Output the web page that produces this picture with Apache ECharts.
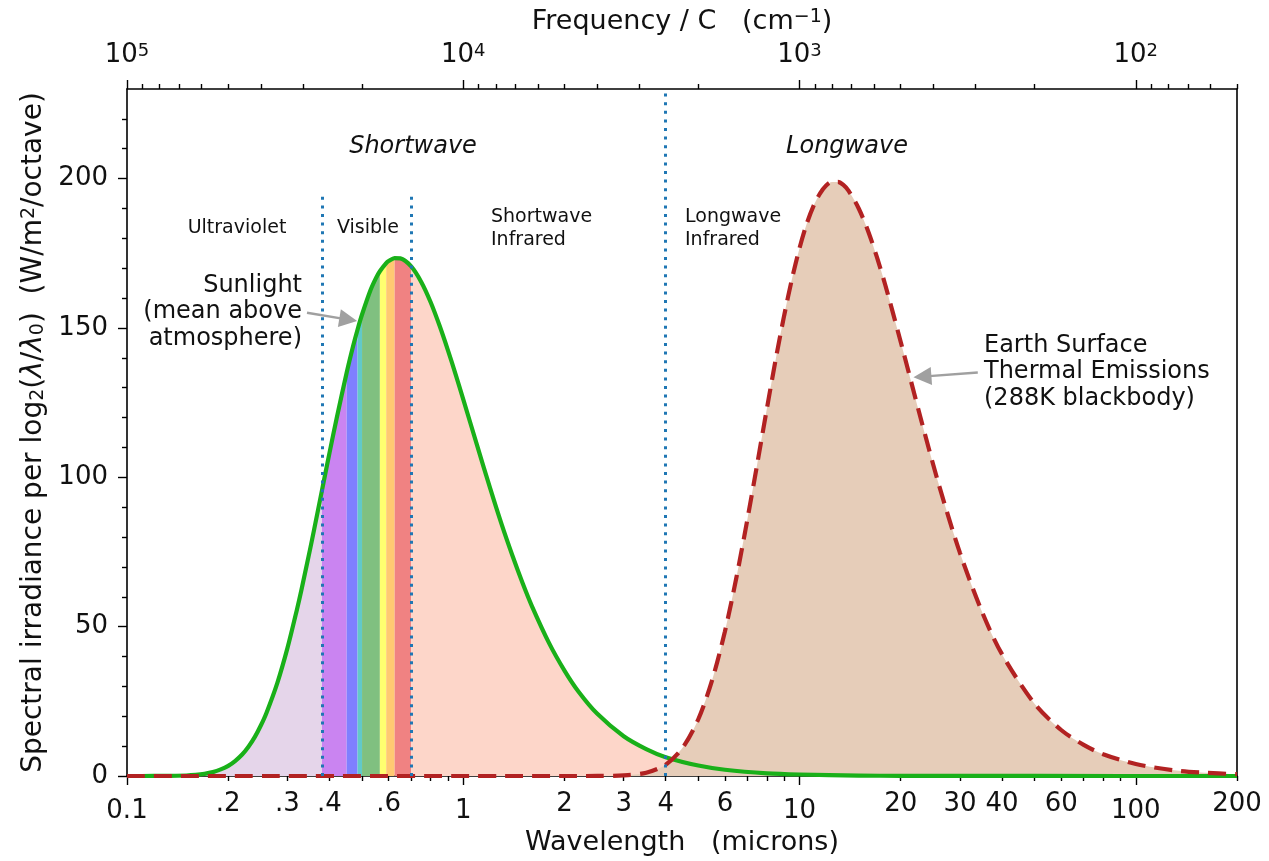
<!DOCTYPE html>
<html>
<head>
<meta charset="utf-8">
<title>Sunlight and Earth thermal emission spectra</title>
<script src="https://cdn.jsdelivr.net/npm/echarts@6/dist/echarts.min.js"></script>
<style>
html, body { margin: 0; padding: 0; background: #fff; }
#chart { width: 1269px; height: 861px; }
</style>
</head>
<body>
<div id="chart"></div>
<script>
// ============================================================================
// Data
// ============================================================================

// Sunlight, mean above atmosphere (W/m2 per octave)
const sunWavelengths = [0.1, 0.12, 0.13, 0.15, 0.16, 0.17, 0.18, 0.19, 0.2, 0.21, 0.22, 0.23, 0.24, 0.25, 0.26, 0.28, 0.3, 0.32, 0.33, 0.35, 0.36, 0.38, 0.4, 0.42, 0.45, 0.47, 0.485, 0.5, 0.53, 0.55, 0.565, 0.59, 0.6, 0.625, 0.65, 0.7, 0.75, 0.8, 0.85, 0.9, 0.95, 1.0, 1.1, 1.2, 1.3, 1.4, 1.5, 1.6, 1.8, 2.0, 2.2, 2.5, 3.0, 3.5, 4, 5, 6, 8, 10, 15, 20, 50, 200]
const sunIrradiance = [0, 0.01, 0.02, 0.17, 0.37, 0.73, 1.3, 2.2, 3.4, 5.1, 7.2, 9.9, 13.1, 16.9, 21.2, 31.2, 42.8, 55.6, 62.2, 75.7, 82.4, 95.6, 108.1, 119.6, 135.0, 143.8, 149.5, 154.5, 162.7, 166.7, 169.0, 171.7, 172.4, 173.4, 173.3, 170.6, 165.4, 158.6, 150.8, 142.6, 134.3, 126.1, 110.6, 96.6, 84.3, 73.8, 64.7, 56.9, 44.5, 35.3, 28.3, 20.9, 13.3, 9.0, 6.3, 3.5, 2.1, 0.9, 0.5, 0.15, 0.06, 0.01, 0]

// Earth surface thermal emissions, 288K blackbody (W/m2 per octave)
const earthWavelengths = [0.1, 2, 2.5, 3, 3.5, 4, 4.5, 5, 5.5, 6, 6.5, 7, 7.5, 8, 8.5, 9, 9.5, 10, 10.5, 11, 11.5, 12, 12.5, 13, 13.5, 14, 15, 16, 17, 18, 20, 23, 26, 30, 35, 40, 50, 60, 70, 80, 100, 130, 160, 200]
const earthIrradiance = [0, 0, 0.01, 0.19, 1.1, 3.8, 9.6, 19.0, 32.2, 48.4, 66.8, 86.0, 105.0, 123.1, 139.6, 154.1, 166.5, 176.7, 184.8, 190.8, 195.0, 197.7, 198.9, 198.9, 197.9, 195.9, 190.0, 182.4, 173.6, 164.3, 145.3, 119.2, 97.3, 74.7, 54.6, 40.8, 24.2, 15.4, 10.4, 7.3, 4.0, 1.9, 1.1, 0.6]

// Colour bands under the sunlight curve (edges in microns)
const bandEdges = [0.1, 0.38, 0.45, 0.485, 0.5, 0.565, 0.59, 0.625, 0.7, 200]
const bandColors = ['#e5d5ea', '#ca84f1', '#7f7fff', '#62c9c9', '#80c080', '#ffff70', '#ffc972', '#f08282', '#fdd6c9']

// Region dividers (microns) and the height they reach
const dividerWavelengths = [0.38, 0.7, 4]
const dividerTops = [195, 195, 230]

// Axis ticks
const wlMajorTicks = [0.1, 1, 10, 100]
const wlMajorLabels = ['0.1', '1', '10', '100']
const wlMinorTicks = [0.2, 0.3, 0.4, 0.5, 0.6, 0.7, 0.8, 0.9, 2, 3, 4, 5, 6, 7, 8, 9, 20, 30, 40, 50, 60, 70, 80, 90, 200]
const wlMinorLabelTicks = [0.2, 0.3, 0.4, 0.6, 2, 3, 4, 6, 20, 30, 40, 60, 200]
const wlMinorLabels = ['.2', '.3', '.4', '.6', '2', '3', '4', '6', '20', '30', '40', '60', '200']
const freqMajorTicks = [100000, 10000, 1000, 100]
const freqMajorLabels = ['10{s|5}', '10{s|4}', '10{s|3}', '10{s|2}']
const freqMinorTicks = [90000, 80000, 70000, 60000, 50000, 40000, 30000, 20000, 9000, 8000, 7000, 6000, 5000, 4000, 3000, 2000, 900, 800, 700, 600, 500, 400, 300, 200, 90, 80, 70, 60, 50]
const yMajorTicks = [0, 50, 100, 150, 200]
const yMajorLabels = ['0', '50', '100', '150', '200']
const yMinorTicks = [10, 20, 30, 40, 60, 70, 80, 90, 110, 120, 130, 140, 160, 170, 180, 190, 210, 220]

// ============================================================================
// Helpers
// ============================================================================

const _font = '"DejaVu Sans", "Liberation Sans", sans-serif'
const _ink = '#111'
const _smooth = 0.3
const _supSub = {
    s: {fontSize: 19, verticalAlign: 'top', fontFamily: _font, color: _ink},
    b: {fontSize: 19, verticalAlign: 'bottom', fontFamily: _font, color: _ink},
    i: {fontSize: 28, fontStyle: 'italic', fontFamily: _font, color: _ink},
}

function _labelFor(ticks, labels) {
    return (v) => {
        const i = ticks.findIndex(t => Math.abs(t - v) <= 1e-6 * Math.max(1, Math.abs(t)))
        return i < 0 ? '' : labels[i]
    }
}

function _pairs(xs, ys) {
    return xs.map((x, i) => [x, ys[i]])
}

function _axisLine(show) {
    return {show: show, onZero: false, lineStyle: {color: '#000', width: 1.6}}
}

function _ticks(values, length) {
    return {show: true, length: length, customValues: values, lineStyle: {color: '#000', width: 1.4}}
}

function _labels(values, labels, margin) {
    return {
        show: true,
        customValues: values,
        formatter: _labelFor(values, labels),
        fontSize: 26,
        fontFamily: _font,
        color: _ink,
        margin: margin,
        rich: {s: {fontSize: 18, verticalAlign: 'top', padding: [0, 0, 4, 0], fontFamily: _font, color: _ink}},
    }
}

function _text(x, y, text, size, align, opts) {
    return {
        type: 'text',
        x: x,
        y: y,
        silent: true,
        style: {
            text: text,
            font: (opts && opts.italic ? 'italic ' : '') + size + 'px ' + _font,
            fill: _ink,
            align: align,
            textAlign: align,
            verticalAlign: 'middle',
            textVerticalAlign: 'middle',
            lineHeight: (opts && opts.lineHeight) || size,
        }
    }
}

// ============================================================================
// Chart
// ============================================================================

function renderSpectrumChart() {
    const element = document.getElementById('chart')
    const chart = echarts.init(element, null, {renderer: 'canvas'})

    const sunData = _pairs(sunWavelengths, sunIrradiance)
    const earthData = _pairs(earthWavelengths, earthIrradiance)

    const bandSeries = bandColors.map((color, i) => ({
        type: 'line',
        xAxisIndex: 0,
        yAxisIndex: 0,
        data: sunData.filter(p => p[0] >= bandEdges[i] && p[0] <= bandEdges[i + 1]),
        symbol: 'none',
        silent: true,
        smooth: _smooth,
        z: 1,
        lineStyle: {width: 0},
        areaStyle: {color: color, opacity: 1},
    }))

    const wlAxis = {type: 'log', logBase: 10, min: 0.1, max: 200, position: 'bottom', splitLine: {show: false}}
    const freqAxis = {type: 'log', logBase: 10, min: 50, max: 100000, inverse: true, position: 'top', splitLine: {show: false}}
    const yBase = {type: 'value', min: 0, max: 230, splitLine: {show: false}}
    const nameStyle = {fontSize: 27, fontFamily: _font, color: _ink, rich: _supSub}

    const option = {
        animation: false,
        textStyle: {fontFamily: _font},
        grid: {left: 127, right: 32, top: 89, bottom: 84},
        xAxis: [
            {
                ...wlAxis,
                axisLine: _axisLine(true),
                axisTick: _ticks(wlMajorTicks, 9),
                axisLabel: _labels(wlMajorTicks, wlMajorLabels, 22),
                name: 'Wavelength   (microns)',
                nameLocation: 'middle',
                nameGap: 53,
                nameTextStyle: nameStyle,
            },
            {
                ...wlAxis,
                axisLine: _axisLine(false),
                axisTick: _ticks(wlMinorTicks, 5),
                axisLabel: _labels(wlMinorLabelTicks, wlMinorLabels, 15),
            },
            {
                ...freqAxis,
                axisLine: _axisLine(true),
                axisTick: _ticks(freqMajorTicks, 9),
                axisLabel: _labels(freqMajorTicks, freqMajorLabels, 21),
                name: 'Frequency / C   (cm{s|−1})',
                nameLocation: 'middle',
                nameGap: 54,
                nameTextStyle: nameStyle,
            },
            {
                ...freqAxis,
                axisLine: _axisLine(false),
                axisTick: _ticks(freqMinorTicks, 5),
                axisLabel: {show: false},
            },
        ],
        yAxis: [
            {
                ...yBase,
                position: 'left',
                axisLine: _axisLine(true),
                axisTick: _ticks(yMajorTicks, 9),
                axisLabel: _labels(yMajorTicks, yMajorLabels, 19),
                name: 'Spectral irradiance per log{b|2}({i|λ}/{i|λ}{b|0})  (W/m{s|2}/octave)',
                nameLocation: 'middle',
                nameGap: 78,
                nameTextStyle: {...nameStyle, fontSize: 28},
            },
            {
                ...yBase,
                position: 'left',
                axisLine: _axisLine(false),
                axisTick: _ticks(yMinorTicks, 5),
                axisLabel: {show: false},
            },
            {
                ...yBase,
                position: 'right',
                axisLine: _axisLine(true),
                axisTick: {show: false},
                axisLabel: {show: false},
            },
        ],
        series: [
            ...bandSeries,
            {
                name: 'Earth fill',
                type: 'line',
                xAxisIndex: 0,
                yAxisIndex: 0,
                data: earthData,
                symbol: 'none',
                silent: true,
                smooth: _smooth,
                z: 2,
                lineStyle: {width: 0},
                areaStyle: {color: '#e6cdb9', opacity: 1},
            },
            {
                name: 'Sunlight',
                type: 'line',
                xAxisIndex: 0,
                yAxisIndex: 0,
                data: sunData,
                symbol: 'none',
                silent: true,
                smooth: _smooth,
                z: 3,
                lineStyle: {color: '#19b019', width: 4.2, join: 'round'},
                markLine: {
                    silent: true,
                    symbol: ['none', 'none'],
                    label: {show: false},
                    lineStyle: {color: '#1f77b4', width: 3, type: [3, 5.6]},
                    data: dividerWavelengths.map((w, i) => [
                        {coord: [w, 0]},
                        {coord: [w, dividerTops[i]]},
                    ]),
                },
            },
            {
                name: 'Earth',
                type: 'line',
                xAxisIndex: 0,
                yAxisIndex: 0,
                data: earthData,
                symbol: 'none',
                silent: true,
                smooth: _smooth,
                z: 4,
                lineStyle: {color: '#b22222', width: 4.2, type: [18, 9]},
                markLine: {
                    silent: true,
                    symbol: ['none', 'triangle'],
                    symbolSize: 18,
                    label: {show: false},
                    itemStyle: {color: '#a0a0a0'},
                    lineStyle: {color: '#a0a0a0', width: 2.4, type: 'solid'},
                    data: [
                        [{coord: [0.343, 155.1]}, {coord: [0.455, 152.8]}],
                        [{coord: [33.9, 135.1]}, {coord: [23.2, 133.7]}],
                    ],
                },
            },
        ],
        graphic: [
            _text(413, 147, 'Shortwave', 24, 'center', {italic: true}),
            _text(847, 147, 'Longwave', 24, 'center', {italic: true}),
            _text(237, 228, 'Ultraviolet', 19, 'center'),
            _text(368, 228, 'Visible', 19, 'center'),
            _text(491, 229, 'Shortwave\nInfrared', 19, 'left', {lineHeight: 23}),
            _text(685, 229, 'Longwave\nInfrared', 19, 'left', {lineHeight: 23}),
            _text(302, 312, 'Sunlight\n(mean above\natmosphere)', 24, 'right', {lineHeight: 26.5}),
            _text(984, 372, 'Earth Surface\nThermal Emissions\n(288K blackbody)', 24, 'left', {lineHeight: 26.5}),
        ],
    }
    chart.setOption(option)
}

document.addEventListener('DOMContentLoaded', renderSpectrumChart)
</script>
</body>
</html>
